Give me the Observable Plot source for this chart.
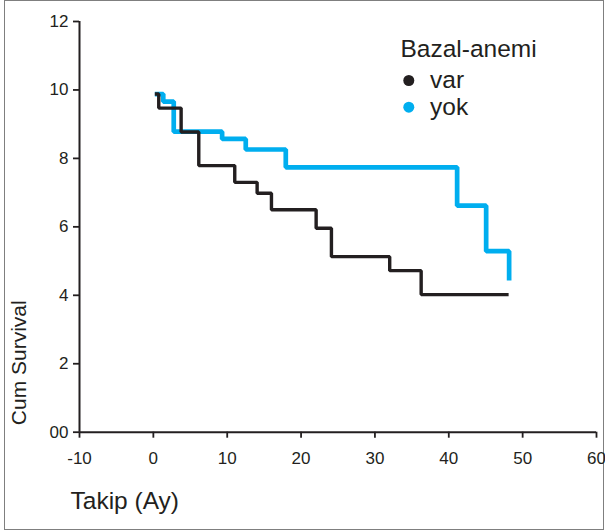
<!DOCTYPE html>
<html>
<head>
<meta charset="utf-8">
<script src="https://cdn.jsdelivr.net/npm/d3@7"></script>
<script src="https://cdn.jsdelivr.net/npm/@observablehq/plot@0.6"></script>
<style>
  body { margin: 0; background: #fff; }
  #wrap { position: relative; width: 605px; height: 531px; }
  #border { position: absolute; left: 4px; top: 0; width: 600px; height: 530px; border: 1px solid #7f7f7f; box-sizing: border-box; }
  #chart { position: absolute; left: 0; top: 0; }
</style>
</head>
<body>
<div id="wrap"><div id="border"></div><div id="chart"></div></div>
<script>
// ---- data ----
const groups = ["var", "yok"];
const groupColors = ["#231f20", "#00aeef"];
const legendTitle = "Bazal-anemi";
const xTitle = "Takip (Ay)";
const yTitle = "Cum Survival";

const varTime = [0.2, 0.73, 3.76, 6.15, 11.02, 14.05, 15.99, 22.04, 24.11, 32.0, 36.26, 48.1];
const varSurv = [9.88, 9.47, 8.77, 7.79, 7.30, 6.98, 6.50, 5.96, 5.13, 4.72, 4.02, 4.02];

const yokTime = [0.2, 1.34, 2.76, 9.31, 12.51, 17.93, 41.13, 45.06, 48.17];
const yokSurv = [9.88, 9.66, 8.78, 8.57, 8.26, 7.74, 6.62, 5.29, 4.43];

const xTicks = [-10, 0, 10, 20, 30, 40, 50, 60];
const yTicks = [0, 2, 4, 6, 8, 10, 12];

// ---- build ----
const varRows = varTime.map((t, i) => ({t, s: varSurv[i], g: groups[0]}));
const yokRows = yokTime.map((t, i) => ({t, s: yokSurv[i], g: groups[1]}));
const ink = "#231f20";
const font = "'Liberation Sans', Arial, Helvetica, sans-serif";

const legendMarks = [
  Plot.text([legendTitle], {frameAnchor: "top-left", dx: 321, dy: 35.7, textAnchor: "start", lineAnchor: "bottom", fontSize: 24.5, fill: ink})
];
groups.forEach((g, i) => {
  legendMarks.push(Plot.dot([g], {frameAnchor: "top-left", dx: 329.3, dy: 59 + i * 26.7, r: 5.5, fill: groupColors[i], stroke: null}));
  legendMarks.push(Plot.text([g], {frameAnchor: "top-left", dx: 350.5, dy: 66.3 + i * 26.7, textAnchor: "start", lineAnchor: "bottom", fontSize: 24.5, fill: ink}));
});

const chart = Plot.plot({
  width: 605,
  height: 531,
  marginLeft: 79,
  marginRight: 9,
  marginTop: 21,
  marginBottom: 99.3,
  style: {fontFamily: font, color: ink, background: "transparent", overflow: "visible"},
  x: {domain: [xTicks[0], xTicks[xTicks.length - 1]]},
  y: {domain: [yTicks[0], yTicks[yTicks.length - 1]]},
  marks: [
    Plot.axisX({ticks: xTicks, tickSize: 6, tickPadding: 14, fontSize: 17, strokeWidth: 1.8, label: null,
                tickFormat: d => String(d)}),
    Plot.axisY({ticks: yTicks, tickSize: 6, tickPadding: 5, fontSize: 17, strokeWidth: 1.8, label: null,
                tickFormat: d => d === 0 ? "00" : String(d)}),
    Plot.ruleY([yTicks[0]], {stroke: ink, strokeWidth: 2}),
    Plot.ruleX([xTicks[0]], {stroke: ink, strokeWidth: 2}),
    Plot.line(yokRows, {x: "t", y: "s", stroke: groupColors[1], strokeWidth: 4.7, curve: "step-after",
                        strokeLinejoin: "miter", strokeLinecap: "butt"}),
    Plot.line(varRows, {x: "t", y: "s", stroke: groupColors[0], strokeWidth: 3.4, curve: "step-after",
                        strokeLinejoin: "miter", strokeLinecap: "butt"}),
    Plot.text([xTitle], {frameAnchor: "bottom-left", dx: -9, dy: 76.3, textAnchor: "start", lineAnchor: "bottom", fontSize: 24.5, fill: ink}),
    Plot.text([yTitle], {frameAnchor: "bottom-left", dx: -68, dy: -7, rotate: -90, textAnchor: "start", lineAnchor: "top", fontSize: 21, fill: ink}),
    ...legendMarks
  ]
});
document.getElementById("chart").appendChild(chart);
</script>
</body>
</html>
